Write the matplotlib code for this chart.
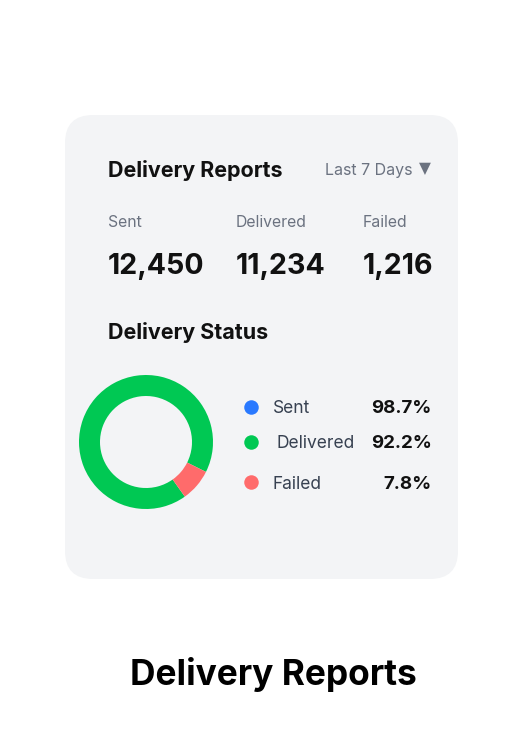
import matplotlib.pyplot as plt
from matplotlib.patches import FancyBboxPatch

plt.rcParams['font.family'] = ['Inter', 'DejaVu Sans']

# Data
stat_labels = ['Sent', 'Delivered', 'Failed']
stat_values = ['12,450', '11,234', '1,216']
legend_labels = ['Sent', 'Delivered', 'Failed']
legend_values = ['98.7%', '92.2%', '7.8%']
legend_colors = ['#2979ff', '#00c853', '#ff6b6b']
donut_values = [92.2, 7.8]
donut_colors = ['#00c853', '#ff6b6b']

W, H = 523, 737
fig = plt.figure(figsize=(W / 100, H / 100), dpi=100, facecolor='white')

# Full figure axes in pixel coordinates
ax = fig.add_axes([0, 0, 1, 1])
ax.set_xlim(0, W)
ax.set_ylim(H, 0)
ax.axis('off')

# Card
ax.add_patch(FancyBboxPatch((65 + 28, 115 + 28), 393 - 56, 464 - 56,
                            boxstyle='round,pad=28,rounding_size=28',
                            fc='#f3f4f6', ec='none'))

dark = '#111111'
grey = '#6b7280'
slate = '#374151'


def px(size):
    return size * 0.72


# Header
ax.text(108, 170, 'Delivery Reports', fontsize=px(21.5), fontweight='bold', color=dark, va='center')
ax.text(325, 170, 'Last 7 Days', fontsize=px(16), color=grey, va='center')
ax.text(424.5, 169, '▼', fontsize=px(15.5), color=grey, va='center', ha='center',
        family=['DejaVu Sans'])

# Stats
stat_x = [108, 236, 363]
for x, label, value in zip(stat_x, stat_labels, stat_values):
    ax.text(x, 222, label, fontsize=px(15.8), color=grey, va='center')
    ax.text(x, 266, value, fontsize=px(28.6), fontweight='bold', color=dark, va='center')

ax.text(108, 332.5, 'Delivery Status', fontsize=px(21.5), fontweight='bold', color=dark, va='center')

# Legend rows
row_y = [407, 442, 482.5]
text_y = [408, 443, 484]
label_x = [272.5, 276.5, 272.5]
for y, ty, lx, label, value, color in zip(row_y, text_y, label_x, legend_labels, legend_values, legend_colors):
    ax.scatter([251], [y - 0.5], s=(14.5 * 0.72) ** 2, color=color, linewidths=0, zorder=3)
    ax.text(lx, ty, label, fontsize=px(17.4), color=slate, va='center')
    ax.text(431.5, ty, value, fontsize=px(18.7), fontweight='bold', color=dark, va='center', ha='right')

# Bottom title
ax.text(273, 674.5, 'Delivery Reports', fontsize=px(35.3), fontweight='bold', color='black',
        va='center', ha='center')

# Donut
cx, cy, r = 146, 442, 67
ax2 = fig.add_axes([(cx - r) / W, 1 - (cy + r) / H, 2 * r / W, 2 * r / H])
ax2.pie(donut_values, colors=donut_colors, startangle=-54.6, counterclock=False, radius=1,
        wedgeprops={'width': 21 / 67, 'linewidth': 0})
ax2.set_xlim(-1, 1)
ax2.set_ylim(-1, 1)

plt.savefig('out.png', dpi=100)
